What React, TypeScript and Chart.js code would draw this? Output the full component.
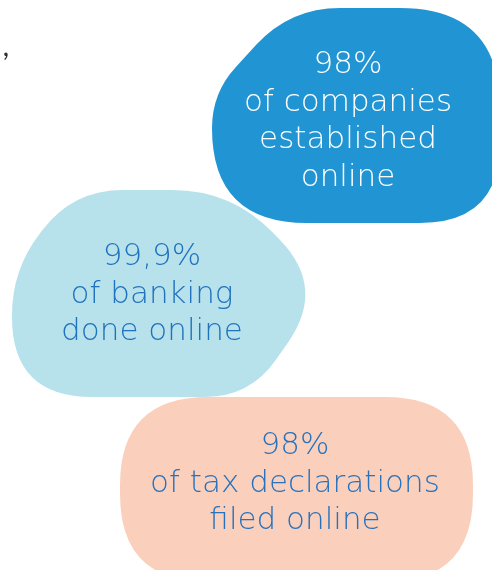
import React, { useEffect, useRef } from "react";
import { Chart, registerables } from "chart.js";

Chart.register(...registerables);

// ---- data ----
const statValues: string[] = ["98%", "99,9%", "98%"];
const statLabelsA: string[] = ["of companies", "of banking", "of tax declarations"];
const statLabelsB: string[] = ["established", "done online", "filed online"];
const statLabelsC: string[] = ["online", "", ""];

// ---- layout (scale units, canvas 492 x 570) ----
const W = 492;
const H = 570;
const anchorsX = [348, 152, 295];
const anchorsY = [65, 257, 446];
const fillColors = ["#2195d3", "#b7e2ec", "#fad0bd"];
const textColors = ["#ffffff", "#1f72bd", "#2672bd"];
const LINE_GAP = 37.5;

// blob outlines: control polygon [x, y, cornerCut]
const blobDark: [number, number, number][] = [
  [290, 8, 50],
  [500, 8, 100],
  [500, 223, 80],
  [212, 223, 95],
  [212, 93, 35],
];
const blobLight: [number, number, number][] = [
  [73, 190, 50],
  [232, 190, 60],
  [326, 288, 66],
  [250, 397, 45],
  [12, 397, 80],
  [12, 270, 45],
];
const blobPeach: [number, number, number][] = [
  [120, 397, 88],
  [473, 397, 88],
  [473, 582, 88],
  [120, 582, 88],
];

function blobPath(
  ctx: CanvasRenderingContext2D,
  pts: [number, number, number][],
  sx: (v: number) => number,
  sy: (v: number) => number
) {
  const n = pts.length;
  const V = pts.map(([x, y, d]) => ({ x: sx(x), y: sy(y), d: Math.abs(sx(d) - sx(0)) }));
  const unit = (a: any, b: any) => {
    const dx = b.x - a.x;
    const dy = b.y - a.y;
    const L = Math.hypot(dx, dy) || 1;
    return { x: dx / L, y: dy / L };
  };
  const A: { x: number; y: number }[] = [];
  const B: { x: number; y: number }[] = [];
  for (let i = 0; i < n; i++) {
    const v = V[i];
    const prev = V[(i - 1 + n) % n];
    const next = V[(i + 1) % n];
    const up = unit(v, prev);
    const un = unit(v, next);
    A.push({ x: v.x + up.x * v.d, y: v.y + up.y * v.d });
    B.push({ x: v.x + un.x * v.d, y: v.y + un.y * v.d });
  }
  ctx.beginPath();
  ctx.moveTo(B[n - 1].x, B[n - 1].y);
  for (let i = 0; i < n; i++) {
    ctx.lineTo(A[i].x, A[i].y);
    ctx.quadraticCurveTo(V[i].x, V[i].y, B[i].x, B[i].y);
  }
  ctx.closePath();
}

const blobPlugin = {
  id: "blobs",
  beforeDatasetsDraw(chart: any) {
    const ctx: CanvasRenderingContext2D = chart.ctx;
    const xs = chart.scales.x;
    const ys = chart.scales.y;
    const sx = (v: number) => xs.getPixelForValue(v);
    const sy = (v: number) => ys.getPixelForValue(v);
    ctx.save();
    // stray fragment of cropped text at top left
    ctx.fillStyle = "#2e2e2e";
    ctx.font = '400 28px "Lato", sans-serif';
    ctx.textAlign = "right";
    ctx.textBaseline = "alphabetic";
    ctx.fillText(",", sx(9), sy(56));

    const shapes = [blobDark, blobLight, blobPeach];
    for (let i = shapes.length - 1; i >= 0; i--) {
      ctx.fillStyle = fillColors[i];
      blobPath(ctx, shapes[i], sx, sy);
      ctx.fill();
    }

    // texts
    ctx.textAlign = "center";
    ctx.textBaseline = "middle";
    ctx.font = '200 31px "DejaVu Sans ExtraLight", "DejaVu Sans", sans-serif';
    for (let i = 0; i < statValues.length; i++) {
      const lines = [statValues[i], statLabelsA[i], statLabelsB[i], statLabelsC[i]].filter((s) => s);
      ctx.fillStyle = textColors[i];
      lines.forEach((ln, k) => {
        ctx.fillText(ln, sx(anchorsX[i]), sy(anchorsY[i] + k * LINE_GAP));
      });
    }
    ctx.restore();
  },
};

export default function App() {
  const ref = useRef<HTMLCanvasElement | null>(null);
  useEffect(() => {
    document.body.style.margin = "0";
    document.body.style.background = "#ffffff";
    if (!ref.current) return;
    const chart = new Chart(ref.current, {
      type: "scatter",
      data: {
        datasets: statValues.map((v, i) => ({
          label: v,
          data: [{ x: anchorsX[i], y: anchorsY[i] }],
          pointRadius: 0,
          backgroundColor: fillColors[i],
        })),
      },
      options: {
        responsive: false,
        animation: false,
        layout: { padding: 0 },
        plugins: { legend: { display: false }, tooltip: { enabled: false } },
        scales: {
          x: { type: "linear", min: 0, max: W, display: false },
          y: { type: "linear", min: 0, max: H, reverse: true, display: false },
        },
      },
      plugins: [blobPlugin],
    });
    return () => chart.destroy();
  }, []);
  return (
    <div style={{ width: W, height: H, background: "#fff" }}>
      <canvas ref={ref} width={W} height={H} style={{ display: "block", width: W, height: H }} />
    </div>
  );
}
